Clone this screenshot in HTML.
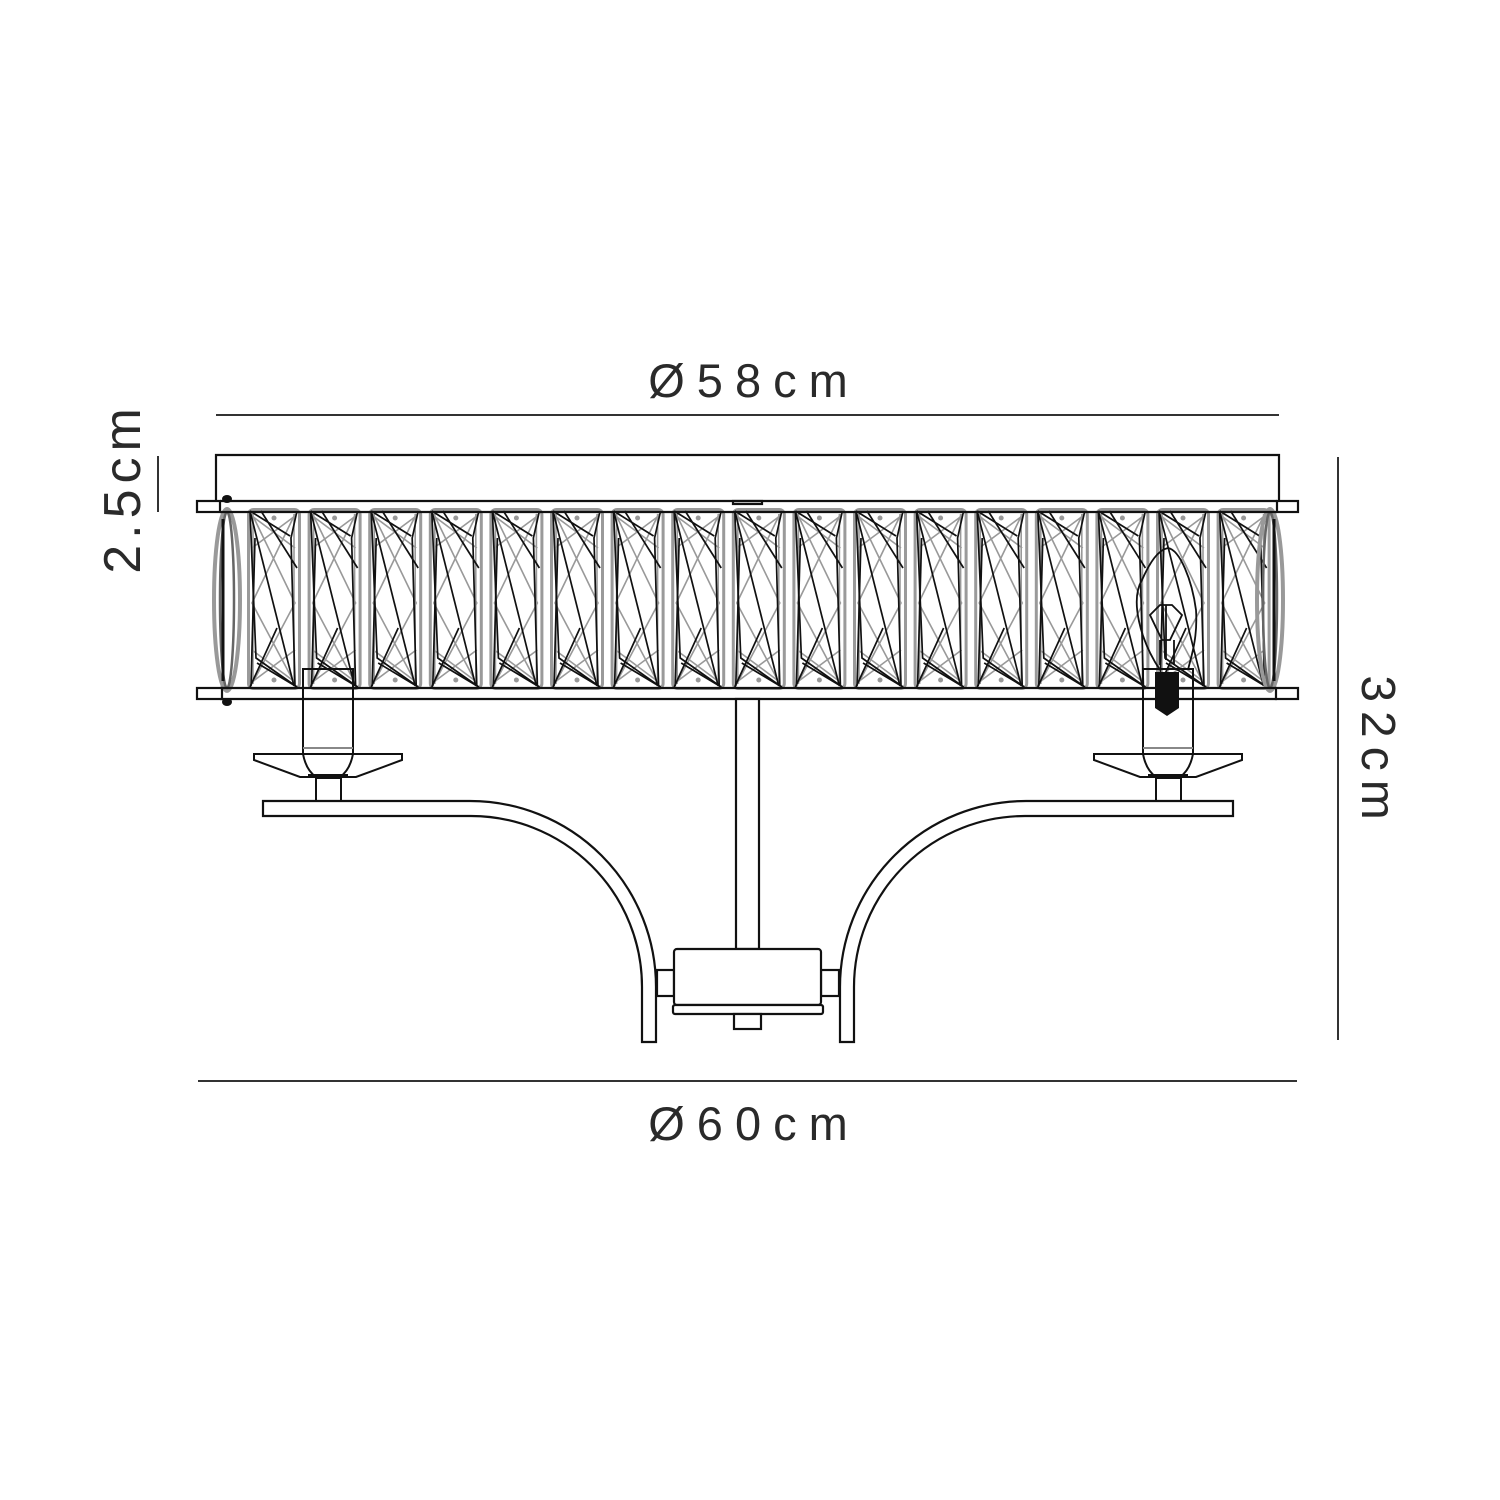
<!DOCTYPE html>
<html><head><meta charset="utf-8"><style>
html,body{margin:0;padding:0;background:#fff}
svg{display:block}
text{font-family:"Liberation Sans",sans-serif;fill:#2a2a2a}
</style></head><body>
<svg width="1500" height="1500" viewBox="0 0 1500 1500" xmlns="http://www.w3.org/2000/svg">
<defs>
<g id="p">
<rect x="1.5" y="1.5" width="51" height="179" rx="5" fill="none" stroke="#9a9a9a" stroke-width="3"/>
<g stroke="#999" stroke-width="1.6" fill="none">
<path d="M5,6 L48,95 L5,176"/><path d="M48,6 L5,95 L48,176"/>
<path d="M5,40 L48,8"/><path d="M48,40 L5,8"/>
<path d="M5,142 L48,174"/><path d="M48,142 L5,174"/>
<path d="M6,6 L6,176 M47,6 L47,176"/>
</g>
<g stroke="#111" stroke-width="1.7" fill="none">
<path d="M3,3 L47,178"/><path d="M3,3 L43,28"/><path d="M50,3 L44,30 L48,178"/>
<path d="M3,3 L9,150 L50,179"/><path d="M3,179 L30,120"/><path d="M14,3 L50,60"/>
<path d="M50,179 L10,155"/><path d="M4,178 L8,30"/>
</g>
<circle cx="27" cy="10" r="2.5" fill="#999"/><circle cx="27" cy="172" r="2.5" fill="#999"/>
</g>
<g id="lens">
<ellipse cx="0" cy="91" rx="13" ry="91" fill="none" stroke="#999" stroke-width="4"/>
<ellipse cx="0" cy="91" rx="7" ry="88" fill="none" stroke="#666" stroke-width="2.5"/>
<path d="M-4,10 L-4,172" stroke="#111" stroke-width="3"/>
</g>
</defs>

<g stroke="#333" stroke-width="2" fill="none">
<line x1="216" y1="415" x2="1279" y2="415"/>
<line x1="198" y1="1081" x2="1297" y2="1081"/>
<line x1="1338" y1="457" x2="1338" y2="1040"/>
<line x1="158" y1="456" x2="158" y2="512"/>
</g>
<text x="754" y="397" font-size="47" text-anchor="middle" letter-spacing="12">Ø58cm</text>
<text x="754" y="1140" font-size="47" text-anchor="middle" letter-spacing="12">Ø60cm</text>
<text transform="translate(1362,752) rotate(90)" font-size="48" text-anchor="middle" letter-spacing="9">32cm</text>
<text transform="translate(140,488) rotate(-90)" font-size="52" text-anchor="middle" letter-spacing="6">2.5cm</text>

<g transform="translate(247,508)"><use href="#p"/></g>
<g transform="translate(307.6,508)"><use href="#p"/></g>
<g transform="translate(368.2,508)"><use href="#p"/></g>
<g transform="translate(428.8,508)"><use href="#p"/></g>
<g transform="translate(489.4,508)"><use href="#p"/></g>
<g transform="translate(550,508)"><use href="#p"/></g>
<g transform="translate(610.6,508)"><use href="#p"/></g>
<g transform="translate(671.2,508)"><use href="#p"/></g>
<g transform="translate(731.8,508)"><use href="#p"/></g>
<g transform="translate(792.4,508)"><use href="#p"/></g>
<g transform="translate(853,508)"><use href="#p"/></g>
<g transform="translate(913.6,508)"><use href="#p"/></g>
<g transform="translate(974.2,508)"><use href="#p"/></g>
<g transform="translate(1034.8,508)"><use href="#p"/></g>
<g transform="translate(1095.4,508)"><use href="#p"/></g>
<g transform="translate(1156,508)"><use href="#p"/></g>
<g transform="translate(1216.6,508)"><use href="#p"/></g>
<g transform="translate(227,509)"><use href="#lens"/></g>
<g transform="translate(1270,509) scale(-1,1)"><use href="#lens"/></g>

<g stroke="#111" stroke-width="2.2" fill="none">
<path d="M216,502 L216,455 L1279,455 L1279,502"/>
<line x1="220" y1="501" x2="1277" y2="501"/>
<line x1="220" y1="512" x2="1277" y2="512"/>
<rect x="197" y="501" width="23" height="11" fill="#fff"/>
<rect x="1277" y="501" width="21" height="11" fill="#fff"/>
<line x1="220" y1="688" x2="1277" y2="688"/>
<line x1="220" y1="699" x2="1277" y2="699"/>
<rect x="197" y="688" width="25" height="11" fill="#fff"/>
<rect x="1276" y="688" width="22" height="11" fill="#fff"/>
<rect x="733" y="501" width="29" height="3"/>
</g>
<ellipse cx="227" cy="499" rx="5" ry="4" fill="#111"/>
<ellipse cx="227" cy="702" rx="5" ry="4" fill="#111"/>

<g stroke="#111" stroke-width="1.8" fill="none">
<path d="M1160,670 C1140,640 1130,600 1142,580 C1150,562 1158,550 1168,548 C1180,550 1192,580 1196,610 C1198,640 1190,660 1188,670"/>
<path d="M1150,615 L1160,605 L1172,605 L1182,615 L1170,640 L1162,640 Z"/>
<path d="M1166,605 L1166,660 M1160,640 L1160,665 M1174,640 L1174,665"/>
</g>
<rect x="1155" y="672" width="24" height="36" fill="#111"/>
<path d="M1155,708 L1167,716 L1179,708 Z" fill="#111"/>

<g stroke="#111" stroke-width="2" fill="none">
<rect x="303" y="669" width="50" height="100" fill="none"/>
<line x1="303" y1="748" x2="353" y2="748" stroke="#888"/>
<path d="M254,754 L402,754 L402,760 L356,777 L300,777 L254,760 Z" fill="#fff"/>
<path d="M303,754 Q306,770 316,777 M353,754 Q350,770 340,777"/>
<rect x="316" y="778" width="25" height="23"/>
<rect x="1143" y="669" width="50" height="100" fill="none"/>
<line x1="1143" y1="748" x2="1193" y2="748" stroke="#888"/>
<path d="M1094,754 L1242,754 L1242,760 L1196,777 L1140,777 L1094,760 Z" fill="#fff"/>
<path d="M1143,754 Q1146,770 1156,777 M1193,754 Q1190,770 1180,777"/>
<rect x="1156" y="778" width="25" height="23"/>
</g>
<line x1="308" y1="776" x2="348" y2="776" stroke="#111" stroke-width="4"/>
<line x1="1148" y1="776" x2="1188" y2="776" stroke="#111" stroke-width="4"/>

<g stroke="#111" stroke-width="2.2" fill="#fff">
<path d="M263,801 L470,801 A186,186 0 0 1 656,987 L656,1042 L642,1042 L642,987 A171,171 0 0 0 470,816 L263,816 Z"/>
<path d="M1233,801 L1026,801 A186,186 0 0 0 840,987 L840,1042 L854,1042 L854,987 A171,171 0 0 1 1026,816 L1233,816 Z"/>
<rect x="736" y="699" width="23" height="250"/>
<rect x="657" y="970" width="17" height="26"/>
<rect x="821" y="970" width="18" height="26"/>
<rect x="674" y="949" width="147" height="56" rx="3"/>
<rect x="673" y="1005" width="150" height="9" rx="2"/>
<rect x="734" y="1014" width="27" height="15"/>
</g>
</svg>
</body></html>
